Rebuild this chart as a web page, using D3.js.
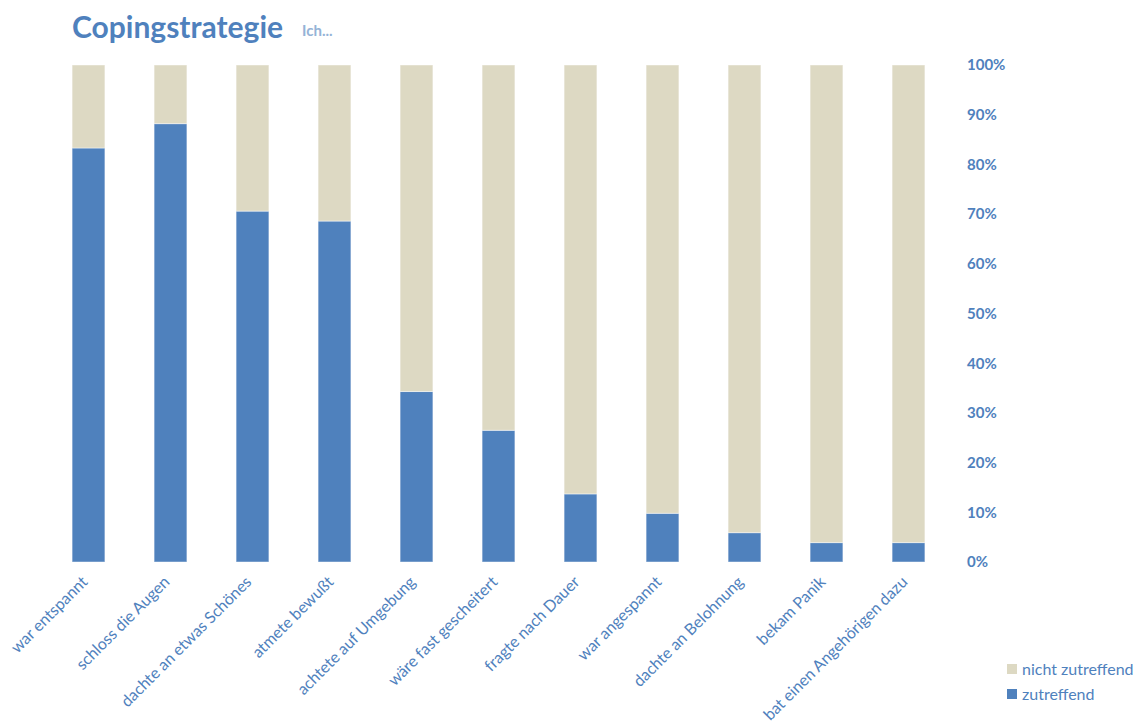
<!DOCTYPE html>
<html>
<head>
<meta charset="utf-8">
<script src="https://cdn.jsdelivr.net/npm/d3@7"></script>
<style>
  body { margin: 0; background: #fff; }
  svg { display: block; font-family: Lato, "Open Sans", sans-serif; }
</style>
</head>
<body>
<svg id="chart" width="1137" height="724"></svg>
<script>
// Coping strategies: share of respondents (in %) for whom the statement applies
const categories = [
  "war entspannt", "schloss die Augen", "dachte an etwas Schönes", "atmete bewußt",
  "achtete auf Umgebung", "wäre fast gescheitert", "fragte nach Dauer",
  "war angespannt", "dachte an Belohnung", "bekam Panik", "bat einen Angehörigen dazu"
];
const zutreffend = [83.3, 88.2, 70.6, 68.6, 34.3, 26.5, 13.7, 9.8, 5.9, 3.9, 3.9];
const nichtZutreffend = zutreffend.map(v => 100 - v);
const yTicks = [0, 10, 20, 30, 40, 50, 60, 70, 80, 90, 100];
const seriesNames = ["nicht zutreffend", "zutreffend"];
const seriesColors = ["#DDD9C3", "#4F81BD"];

const textColor = "#4F81BD";
const svg = d3.select("#chart");

const x = d3.scaleBand().domain(categories).range([47.5, 949.5]).paddingInner(0.6).paddingOuter(0.3);
const y = d3.scaleLinear().domain([0, 100]).range([562, 65]);

// stacked data: zutreffend at bottom, nicht zutreffend on top
const rows = categories.map((c, i) => ({ cat: c, zutreffend: zutreffend[i], nicht: nichtZutreffend[i] }));
const stack = d3.stack().keys(["zutreffend", "nicht"])(rows);
const stackColors = { zutreffend: seriesColors[1], nicht: seriesColors[0] };

svg.append("g").selectAll("g").data(stack).join("g")
  .attr("fill", d => stackColors[d.key])
  .selectAll("rect").data(d => d).join("rect")
  .attr("x", d => x(d.data.cat))
  .attr("width", x.bandwidth())
  .attr("y", d => y(d[1]))
  .attr("height", d => y(d[0]) - y(d[1]))
  .attr("stroke", "rgba(255,255,255,0.45)")
  .attr("stroke-width", 1);

// right-side percentage axis
const yAxis = d3.axisRight(y).tickValues(yTicks).tickFormat(d => d + "%").tickSize(0).tickPadding(0);
const ya = svg.append("g").attr("transform", "translate(967,0)").call(yAxis);
ya.select(".domain").remove();
ya.selectAll("text")
  .attr("fill", textColor)
  .attr("font-size", 15)
  .attr("font-weight", "bold")
  .attr("font-family", "Lato, 'Open Sans', sans-serif");

// category labels, rotated
const xAxis = d3.axisBottom(x).tickSize(0).tickPadding(0);
const xa = svg.append("g").attr("transform", "translate(0,562)").call(xAxis);
xa.select(".domain").remove();
xa.selectAll("text")
  .attr("fill", textColor)
  .attr("font-size", 16)
  .attr("font-family", "Lato, 'Open Sans', sans-serif")
  .attr("text-anchor", "end")
  .attr("dy", null)
  .attr("y", 0)
  .attr("transform", "translate(0,21) rotate(-45)");

// title
svg.append("text").attr("x", 72).attr("y", 38)
  .attr("fill", "#4F81BD").attr("font-size", 30).attr("font-weight", "bold")
  .text("Copingstrategie");
svg.append("text").attr("x", 302).attr("y", 36)
  .attr("fill", "#95B3D7").attr("font-size", 15).attr("font-weight", "bold")
  .text("Ich...");

// legend
const legend = svg.append("g").selectAll("g").data(seriesNames).join("g")
  .attr("transform", (d, i) => `translate(1007,${664 + i * 25})`);
legend.append("rect").attr("width", 10).attr("height", 10).attr("fill", (d, i) => seriesColors[i]);
legend.append("text").attr("x", 15).attr("y", 5).attr("dy", "0.35em")
  .attr("fill", textColor).attr("font-size", 16).text(d => d);
</script>
</body>
</html>
